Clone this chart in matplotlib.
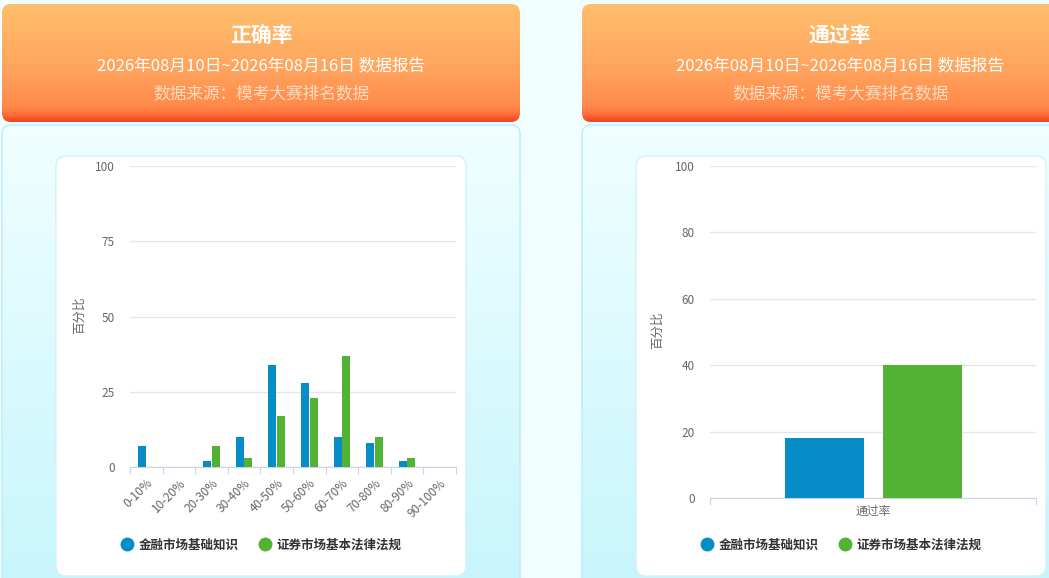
import numpy as np
import matplotlib.pyplot as plt
from matplotlib.patches import FancyBboxPatch
from matplotlib.lines import Line2D
from matplotlib.colors import LinearSegmentedColormap

plt.rcParams['font.family'] = ['Noto Sans CJK SC', 'DejaVu Sans']

# data
acc_bins = ['0-10%', '10-20%', '20-30%', '30-40%', '40-50%',
            '50-60%', '60-70%', '70-80%', '80-90%', '90-100%']
acc_finance = [7, 0, 2, 10, 34, 28, 10, 8, 2, 0]
acc_law = [0, 0, 7, 3, 17, 23, 37, 10, 3, 0]
pass_cat = ['通过率']
pass_finance = [18]
pass_law = [40]
series_names = ['金融市场基础知识', '证券市场基本法律法规']
date_text = '2026年08月10日~2026年08月16日 数据报告'
source_text = '数据来源：模考大赛排名数据'

BLUE = '#068DC8'
GREEN = '#52B233'
AXIS_C = '#C8D4E6'
GRID_C = '#E4E6EA'
TICK_C = '#666666'

W, H = 1049, 578
fig = plt.figure(figsize=(W / 100, H / 100), dpi=100)
fig.patch.set_facecolor('#F1FEFF')


def fbox(x0, y0, x1, y1):
    return [x0 / W, 1 - y1 / H, (x1 - x0) / W, (y1 - y0) / H]


bg = fig.add_axes([0, 0, 1, 1], zorder=0)
bg.axis('off')

header_cmap = LinearSegmentedColormap.from_list('hdr', [
    (0.0, '#FFBF6C'), (0.55, '#FFA45E'), (0.87, '#FF8A4C'),
    (0.94, '#FF6C3A'), (1.0, '#F5401C')])
panel_cmap = LinearSegmentedColormap.from_list('pnl', ['#F0FFFF', '#C6F5FC'])
grad = np.linspace(0, 1, 256).reshape(-1, 1)


def grad_box(x0, y0, x1, y1, cmap, r, edge=None):
    p = FancyBboxPatch((x0, y0), x1 - x0, y1 - y0,
                       boxstyle=f'round,pad=0,rounding_size={r}',
                       facecolor='none', edgecolor=edge or 'none', lw=1, zorder=2)
    bg.add_patch(p)
    im = bg.imshow(grad, extent=(x0, x1, y1, y0), origin='upper', aspect='auto',
                   cmap=cmap, zorder=1)
    im.set_clip_path(p)


for hx0, hx1, cx, wx0, title in [(2, 520, 261, 56, '正确率'), (582, 1100, 840, 636, '通过率')]:
    grad_box(hx0, 4, hx1, 122, header_cmap, 9)
    grad_box(hx0, 125, hx1, 600, panel_cmap, 9, edge='#BDEBF7')
    bg.add_patch(FancyBboxPatch((wx0, 156), 410, 420,
                                boxstyle='round,pad=0,rounding_size=10',
                                facecolor='white', edgecolor='#D2F0FA', lw=1, zorder=3))
    bg.text(cx, 35, title, color='white', fontsize=15, fontweight='bold',
            ha='center', va='center', zorder=4)
    bg.text(cx, 66, date_text, color='white', fontsize=12, fontweight='medium',
            ha='center', va='center', zorder=4)
    bg.text(cx, 94, source_text, color='#FFDCC0', fontsize=12,
            ha='center', va='center', zorder=4)

bg.set_xlim(0, W)
bg.set_ylim(H, 0)


def style_axes(ax):
    ax.set_facecolor('none')
    for s in ['top', 'right', 'left']:
        ax.spines[s].set_visible(False)
    ax.spines['bottom'].set_color(AXIS_C)
    ax.grid(True, axis='y', color=GRID_C, lw=1)
    ax.set_axisbelow(True)
    ax.tick_params(axis='y', length=0, colors=TICK_C, labelsize=8.5, pad=11)
    ax.tick_params(axis='x', which='major', length=5, color=AXIS_C, labelbottom=False)
    ax.tick_params(axis='x', which='minor', length=0, colors=TICK_C, labelsize=8.5)
    ax.set_ylabel('百分比', color=TICK_C, fontsize=9)


# accuracy chart
ax1 = fig.add_axes(fbox(130, 166, 456, 467), zorder=5)
x = np.arange(len(acc_bins))
bw = 0.245
ax1.bar(x - 0.13, acc_finance, bw, color=BLUE, zorder=3)
ax1.bar(x + 0.13, acc_law, bw, color=GREEN, zorder=3)
ax1.set_xlim(-0.5, len(acc_bins) - 0.5)
ax1.set_ylim(0, 100)
ax1.set_yticks([0, 25, 50, 75, 100])
ax1.set_xticks(np.arange(len(acc_bins) + 1) - 0.5)
ax1.set_xticks(x, minor=True)
ax1.set_xticklabels(acc_bins, minor=True, rotation=45, ha='right',
                    rotation_mode='anchor')
style_axes(ax1)
ax1.tick_params(axis='x', which='minor', pad=7)
ax1.yaxis.set_label_coords(-0.135, 0.505)

# pass rate chart
ax2 = fig.add_axes(fbox(710, 166, 1036, 498), zorder=5)
x2 = np.arange(len(pass_cat))
ax2.bar(x2 - 0.149, pass_finance, 0.242, color=BLUE, zorder=3)
ax2.bar(x2 + 0.152, pass_law, 0.242, color=GREEN, zorder=3)
ax2.set_xlim(-0.5, 0.5)
ax2.set_ylim(0, 100)
ax2.set_yticks([0, 20, 40, 60, 80, 100])
ax2.set_xticks([-0.5, 0.5])
ax2.set_xticks(x2, minor=True)
ax2.set_xticklabels(pass_cat, minor=True)
style_axes(ax2)
ax2.tick_params(axis='x', which='minor', pad=5)
ax2.yaxis.set_label_coords(-0.142, 0.505)

handles = [Line2D([], [], marker='o', ls='none', markersize=9, color=BLUE, label=series_names[0]),
           Line2D([], [], marker='o', ls='none', markersize=9, color=GREEN, label=series_names[1])]
for cx in [261, 841]:
    fig.legend(handles=handles, loc='center', bbox_to_anchor=(cx / W, 1 - 545 / H),
               ncol=2, frameon=False, handletextpad=0.4, columnspacing=1.6,
               handlelength=1.0, prop={'size': 9, 'weight': 'bold'},
               labelcolor='#333333')

fig.savefig('out.png', dpi=100, facecolor=fig.get_facecolor())
